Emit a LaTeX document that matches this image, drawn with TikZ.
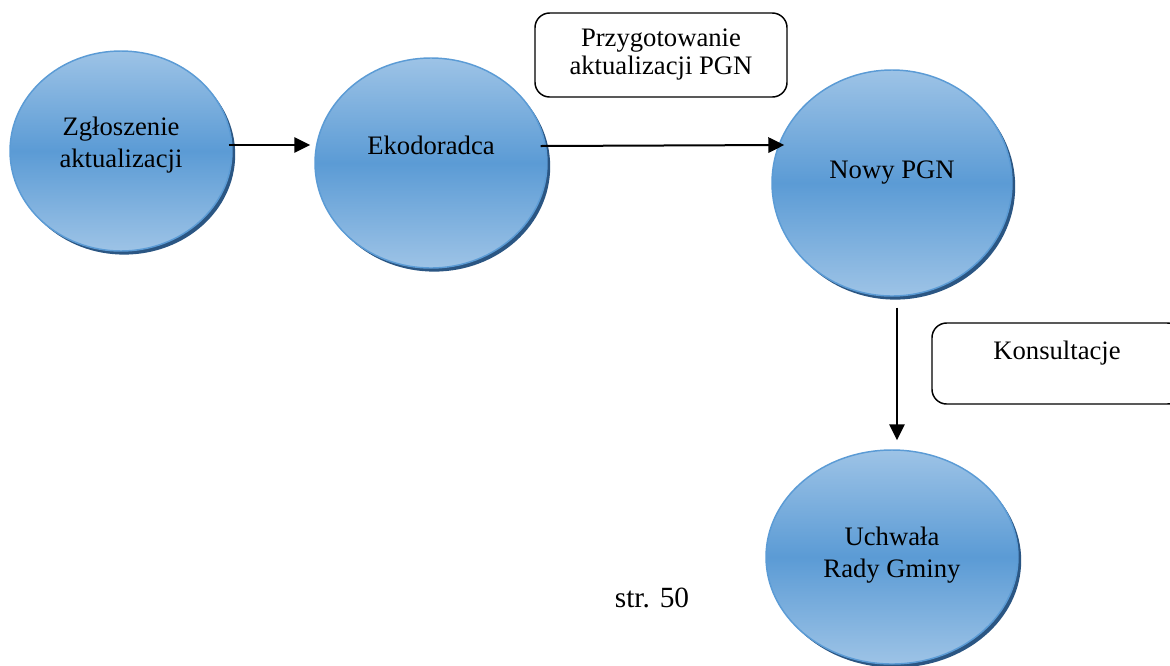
\documentclass[tikz,border=0pt]{standalone}
\usepackage{fontspec}
\setmainfont{Liberation Serif}
\usetikzlibrary{arrows.meta,positioning,calc,shapes.geometric,shadows}
\definecolor{bubbletop}{HTML}{9DC3E6}
\definecolor{bubblemid}{HTML}{5B9BD5}
\definecolor{bubbleedge}{HTML}{5B9BD5}
\definecolor{bubbleshadow}{HTML}{2B5683}
\def\pxu{0.75pt}

\begin{document}
\begin{tikzpicture}[
  x=0.75pt, y=-0.75pt,
  bubble/.style={ellipse, draw=bubbleedge, line width=1.1pt, top color=bubbletop, bottom color=bubbletop, middle color=bubblemid,
    drop shadow={shadow xshift=2.4pt, shadow yshift=-2.7pt, fill=bubbleshadow, opacity=1}, inner sep=0pt},
  bubbletext/.style={font=\fontsize{20}{24}\selectfont, align=center},
  box/.style={draw, rounded corners=11pt, line width=1.1pt, align=center, font=\fontsize{20}{21}\selectfont},
  arrow/.style={-{Triangle[length=12pt,width=11.5pt]}, line width=1.5pt}
]
\useasboundingbox (0,0) rectangle (1170,665);

% Bubbles
\node[bubble, minimum width=222*\pxu, minimum height=200*\pxu,
  label={[bubbletext, yshift=4.5pt]center:Zgłoszenie\\aktualizacji}] (zgl) at (121,151) {};
\node[bubble, minimum width=232*\pxu, minimum height=210*\pxu,
  label={[bubbletext, yshift=13.5pt]center:Ekodoradca}] (eko) at (431,163) {};
\node[bubble, minimum width=240*\pxu, minimum height=226*\pxu,
  label={[bubbletext, yshift=8pt]center:Nowy PGN}] (nowy) at (892,183) {};
\node[bubble, minimum width=252*\pxu, minimum height=214*\pxu,
  label={[bubbletext, yshift=1.5pt]center:Uchwała\\Rady Gminy}] (uchw) at (892,557) {};

% Boxes
\node[box, minimum width=252*\pxu, minimum height=84*\pxu] (przyg) at (661,55) {Przygotowanie\\aktualizacji PGN};
\node[box, minimum width=250*\pxu, minimum height=81*\pxu,
  label={[font=\fontsize{20}{24}\selectfont, yshift=7.9pt]center:Konsultacje}] (kons) at (1057,363.5) {};

\node[font=\fontsize{22}{26}\selectfont] (strona) at (652,598) {str. 50};

% Arrows
\draw[arrow] ([shift={(-4,-6)}]zgl.east) -- ([shift={(-4,-6)}]zgl.east -| eko.west);
\draw[arrow] ([shift={(-7,-17)}]eko.east) -- ([shift={(13,-38)}]nowy.west);
\draw[arrow] ([shift={(5,11)}]nowy.south) -- ([shift={(5,-9)}]uchw.north);

\end{tikzpicture}
\end{document}
